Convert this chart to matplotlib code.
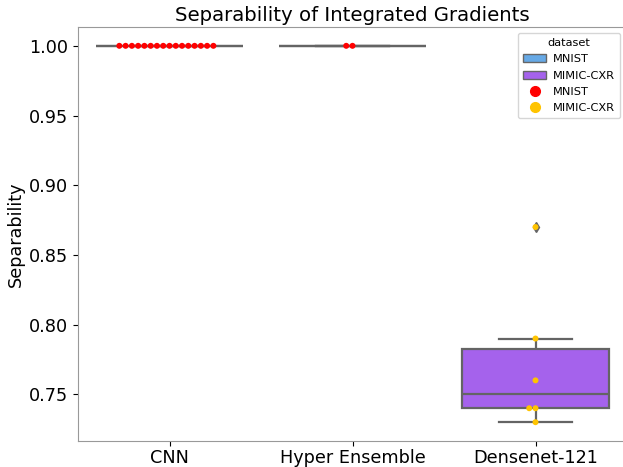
import matplotlib
matplotlib.use('Agg')
import matplotlib.pyplot as plt
from matplotlib.patches import Patch
from matplotlib.lines import Line2D
import numpy as np
import pandas as pd
import seaborn as sns

models = ['CNN', 'Hyper Ensemble', 'Densenet-121']
datasets = ['MNIST', 'MIMIC-CXR']
cnn_vals = [1.0] * 16
hyper_vals = [1.0, 1.0]
densenet_vals = [0.87, 0.79, 0.76, 0.74, 0.74, 0.73]
box_colors = ['#66a9e6', '#a562ec']
dot_colors = ['#ff0000', '#ffc400']

df = pd.DataFrame({
    'model': ['CNN'] * len(cnn_vals) + ['Hyper Ensemble'] * len(hyper_vals) + ['Densenet-121'] * len(densenet_vals),
    'dataset': ['MNIST'] * (len(cnn_vals) + len(hyper_vals)) + ['MIMIC-CXR'] * len(densenet_vals),
    'Separability': cnn_vals + hyper_vals + densenet_vals,
})

fig = plt.figure(figsize=(6.23, 4.67), dpi=100)
ax = fig.add_axes([78 / 623, 1 - 441 / 467, (627 - 78) / 623, (441 - 27) / 467])

sns.boxplot(data=df, x='model', y='Separability', hue='dataset', order=models,
            hue_order=datasets, palette=box_colors, dodge=False, saturation=1,
            width=0.8, linewidth=1.6, legend=False, ax=ax,
            flierprops=dict(marker='d', markerfacecolor='#666666', markeredgecolor='#666666', markersize=5))
sns.swarmplot(data=df, x='model', y='Separability', hue='dataset', order=models,
              hue_order=datasets, palette=dot_colors, dodge=False, size=4.3,
              legend=False, ax=ax)

ax.set_xlim(-0.5, 2.5)
ax.set_xlabel('')
ax.set_ylabel('Separability', fontsize=12.7, labelpad=3)
ax.set_title('Separability of Integrated Gradients', fontsize=14.2, pad=4)
ax.tick_params(labelsize=12.7)
ax.tick_params(axis='x', pad=2.5)
ax.set_yticks([0.75, 0.80, 0.85, 0.90, 0.95, 1.00])
for s in ax.spines.values():
    s.set_color('#999999')

handles = [Patch(facecolor=box_colors[0], edgecolor='#666666', label='MNIST'),
           Patch(facecolor=box_colors[1], edgecolor='#666666', label='MIMIC-CXR'),
           Line2D([], [], marker='o', linestyle='', color=dot_colors[0], markersize=7, label='MNIST'),
           Line2D([], [], marker='o', linestyle='', color=dot_colors[1], markersize=7, label='MIMIC-CXR')]
fig.legend(handles=handles, title='dataset', loc='upper right',
           bbox_to_anchor=(620 / 623, 1 - 33 / 467), borderaxespad=0,
           fontsize=8.2, title_fontsize=8.2,
           handletextpad=0.6, borderpad=0.45, labelspacing=0.55)

fig.savefig('out.png', dpi=100)
